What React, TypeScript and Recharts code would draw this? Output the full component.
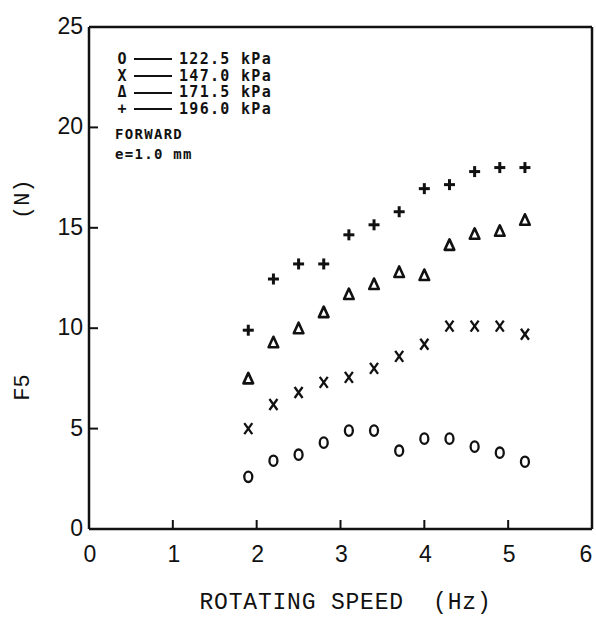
import { Legend, ReferenceLine, Scatter, ScatterChart, XAxis, YAxis } from "recharts"

// rotating speed (Hz) of each measurement
const speeds = [1.9, 2.2, 2.5, 2.8, 3.1, 3.4, 3.7, 4.0, 4.3, 4.6, 4.9, 5.2]

// F5 (N) per inflation pressure
const f122 = [2.6, 3.4, 3.7, 4.3, 4.9, 4.9, 3.9, 4.5, 4.5, 4.1, 3.8, 3.35]
const f147 = [5.0, 6.2, 6.8, 7.3, 7.55, 8.0, 8.6, 9.2, 10.1, 10.1, 10.1, 9.7]
const f171 = [7.5, 9.3, 10.0, 10.8, 11.7, 12.2, 12.8, 12.65, 14.15, 14.7, 14.85, 15.4]
const f196 = [9.9, 12.45, 13.2, 13.2, 14.65, 15.15, 15.8, 16.95, 17.15, 17.8, 18.0, 18.0]

const pressures = ["122.5 kPa", "147.0 kPa", "171.5 kPa", "196.0 kPa"]
const legendGlyphs = ["O", "X", "Δ", "+"]

const xTicks = [0, 1, 2, 3, 4, 5, 6]
const yTicks = [0, 5, 10, 15, 20, 25]

const toPoints = (values: number[]) => speeds.map((x, i) => ({ x, y: values[i] }))

const INK = "#111"
const tickFont = "'Liberation Sans', Arial, sans-serif"
const monoFont = "'Liberation Mono', 'Courier New', monospace"

const CircleMark = ({ cx, cy }: any) => (
  <ellipse cx={cx} cy={cy} rx={4} ry={5.2} fill="none" stroke={INK} strokeWidth={2.3} />
)

const CrossMark = ({ cx, cy }: any) => (
  <g stroke={INK} strokeWidth={2.3}>
    <line x1={cx - 4} y1={cy - 5.5} x2={cx + 4} y2={cy + 5.5} />
    <line x1={cx + 4} y1={cy - 5.5} x2={cx - 4} y2={cy + 5.5} />
  </g>
)

const TriangleMark = ({ cx, cy }: any) => (
  <path
    d={`M${cx},${cy - 5.5} L${cx + 4.8},${cy + 5} L${cx - 4.8},${cy + 5} Z`}
    fill="none"
    stroke={INK}
    strokeWidth={2.6}
    strokeLinejoin="round"
  />
)

const PlusMark = ({ cx, cy }: any) => (
  <g stroke={INK} strokeWidth={3}>
    <line x1={cx - 5.5} y1={cy} x2={cx + 5.5} y2={cy} />
    <line x1={cx} y1={cy - 5.5} x2={cx} y2={cy + 5.5} />
  </g>
)

const YTick = ({ x, y, payload }: any) => {
  const v = payload.value
  return (
    <g>
      {v !== 0 && v !== 25 && <line x1={x} x2={x + 9} y1={y} y2={y} stroke={INK} strokeWidth={2} />}
      <text x={x - 6} y={y + 7} textAnchor="end" fontSize={23} fontFamily={tickFont} fill={INK}>
        {v}
      </text>
    </g>
  )
}

const XTick = ({ x, y, payload }: any) => {
  const v = payload.value
  // the last label sits a little inside the frame
  const lx = v === 6 ? x - 6 : x + 1
  return (
    <g>
      {v !== 0 && v !== 6 && <line x1={x} x2={x} y1={y} y2={y - 9} stroke={INK} strokeWidth={2} />}
      <text x={lx} y={y + 33} textAnchor="middle" fontSize={23} fontFamily={tickFont} fill={INK}>
        {v}
      </text>
    </g>
  )
}

const YTitle = ({ viewBox }: any) => {
  const { x, y, width, height } = viewBox
  const ax = x + width
  return (
    <g fontFamily={monoFont} fontSize={22} fill={INK}>
      <text transform={`translate(${ax - 60},${y + height * 0.343}) rotate(-90)`} textAnchor="middle">
        (N)
      </text>
      <text transform={`translate(${ax - 60},${y + height * 0.718}) rotate(-90)`} textAnchor="middle">
        F5
      </text>
    </g>
  )
}

const XTitle = ({ viewBox }: any) => {
  const { x, y, width } = viewBox
  return (
    <text
      x={x + width / 2 + 5}
      y={y + 80}
      textAnchor="middle"
      fontFamily={monoFont}
      fontSize={23}
      letterSpacing={0.8}
      fill={INK}
      style={{ whiteSpace: "pre" }}
    >
      {"ROTATING SPEED  (Hz)"}
    </text>
  )
}

const LegendBox = () => (
  <div
    style={{
      fontFamily: "'DejaVu Sans Mono', monospace",
      fontWeight: "bold",
      fontSize: 15,
      letterSpacing: 1.3,
      color: INK,
      lineHeight: "16.7px",
    }}
  >
    {pressures.map((p, i) => (
      <div key={p} style={{ display: "flex", alignItems: "center" }}>
        <span style={{ width: 14, textAlign: "center", letterSpacing: 0 }}>{legendGlyphs[i]}</span>
        <span style={{ width: 38, height: 2, background: INK, marginLeft: 5, marginRight: 7 }} />
        <span>{p}</span>
      </div>
    ))}
    <div style={{ marginTop: 8, fontSize: 14 }}>FORWARD</div>
    <div style={{ marginTop: 3, fontSize: 14 }}>e=1.0 mm</div>
  </div>
)

export default function App() {
  return (
    <div style={{ position: "absolute", left: 0, top: 0, width: 596, height: 618, background: "#fff" }}>
      <ScatterChart width={596} height={618} margin={{ top: 27, right: 4, bottom: 59, left: 49 }}>
        <XAxis
          dataKey="x"
          type="number"
          domain={[0, 6]}
          ticks={xTicks}
          height={30}
          tickSize={0}
          tickMargin={0}
          tickLine={false}
          tick={<XTick />}
          axisLine={{ stroke: INK, strokeWidth: 2.5 }}
          label={<XTitle />}
          interval={0}
        />
        <YAxis
          dataKey="y"
          type="number"
          domain={[0, 25]}
          ticks={yTicks}
          width={40}
          tickSize={0}
          tickMargin={0}
          tickLine={false}
          tick={<YTick />}
          axisLine={{ stroke: INK, strokeWidth: 2.5 }}
          label={<YTitle />}
          interval={0}
        />
        <ReferenceLine y={25} stroke={INK} strokeWidth={2.5} />
        <ReferenceLine x={6} stroke={INK} strokeWidth={2.5} />
        <Legend
          layout="vertical"
          align="center"
          verticalAlign="middle"
          content={<LegendBox />}
          wrapperStyle={{ top: 51, left: 115, width: 200, height: 120 }}
        />
        <Scatter name={pressures[0]} data={toPoints(f122)} shape={<CircleMark />} isAnimationActive={false} />
        <Scatter name={pressures[1]} data={toPoints(f147)} shape={<CrossMark />} isAnimationActive={false} />
        <Scatter name={pressures[2]} data={toPoints(f171)} shape={<TriangleMark />} isAnimationActive={false} />
        <Scatter name={pressures[3]} data={toPoints(f196)} shape={<PlusMark />} isAnimationActive={false} />
      </ScatterChart>
    </div>
  )
}
